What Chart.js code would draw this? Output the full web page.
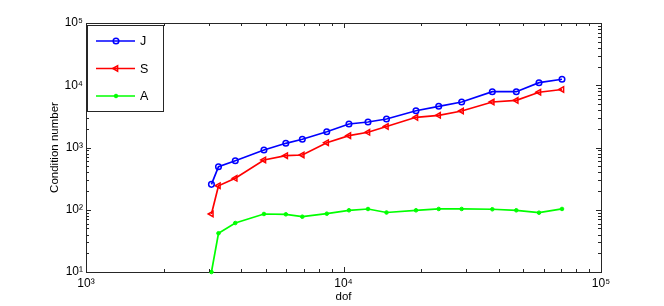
<!DOCTYPE html>
<html>
<head>
<meta charset="utf-8">
<script src="https://cdn.jsdelivr.net/npm/chart.js@4/dist/chart.umd.min.js"></script>
<style>
  html, body { margin: 0; padding: 0; background: #fff; }
  #wrap { width: 664px; height: 306px; }
</style>
</head>
<body>
<div id="wrap"><canvas id="chart-cond" width="664" height="306"></canvas></div>
<script>
// values (log-log)
var dof   = [3070, 3270, 3800, 4910, 5970, 6920, 8610, 10500, 12450, 14690, 19120, 23430, 28770, 37840, 46890, 57440, 70560];
var condJ = [256, 492, 614, 912, 1168, 1355, 1794, 2386, 2568, 2870, 3900, 4590, 5380, 7880, 7880, 10990, 12500];
var condS = [85.5, 243, 320, 630, 738, 758, 1194, 1548, 1755, 2175, 3055, 3290, 3857, 5380, 5730, 7730, 8550];
var condA = [10, 41.9, 61.2, 85.5, 84.5, 77.3, 86.4, 98, 102.8, 90.3, 98, 103, 103, 101.8, 98, 89.7, 103];
var seriesNames = ['J', 'S', 'A'];
var supers = {1: '\u00b9', 2: '\u00b2', 3: '\u00b3', 4: '\u2074', 5: '\u2075'};

function toPoints(ys) {
	return dof.map(function(x, i) { return {x: x, y: ys[i]}; });
}

function decadeLabel(v) {
	var e = Math.log10(v);
	if (Math.abs(e - Math.round(e)) < 1e-9) return '10' + supers[Math.round(e)];
	return '';
}

var fontFam = '"Liberation Sans", Arial, Helvetica, sans-serif';

// inward ticks on all four sides (matlab box style)
var boxTicks = {
	id: 'boxTicks',
	afterDraw: function(chart) {
		var ctx = chart.ctx, a = chart.chartArea;
		var sx = chart.scales.x, sy = chart.scales.y;
		ctx.save();
		ctx.strokeStyle = '#262626';
		ctx.lineWidth = 1;
		ctx.beginPath();
		ctx.moveTo(a.left, a.top + 0.5); ctx.lineTo(a.right + 0.5, a.top + 0.5);
		ctx.moveTo(a.right + 0.5, a.top); ctx.lineTo(a.right + 0.5, a.bottom);
		var d, m, v, p, len;
		for (d = 3; d <= 5; d++) {
			for (m = 1; m <= 9; m++) {
				v = m * Math.pow(10, d);
				if (v > 1e5) break;
				p = Math.round(sx.getPixelForValue(v)) + 0.5;
				len = m === 1 ? 5 : 3;
				ctx.moveTo(p, a.bottom); ctx.lineTo(p, a.bottom - len);
				ctx.moveTo(p, a.top); ctx.lineTo(p, a.top + len);
			}
		}
		for (d = 1; d <= 5; d++) {
			for (m = 1; m <= 9; m++) {
				v = m * Math.pow(10, d);
				if (v > 1e5) break;
				p = Math.round(sy.getPixelForValue(v)) + 0.5;
				len = m === 1 ? 5 : 3;
				ctx.moveTo(a.left, p); ctx.lineTo(a.left + len, p);
				ctx.moveTo(a.right, p); ctx.lineTo(a.right - len, p);
			}
		}
		ctx.stroke();
		ctx.restore();
	}
};

// legend box in the top left corner
var boxLegend = {
	id: 'boxLegend',
	afterDraw: function(chart) {
		var ctx = chart.ctx, a = chart.chartArea;
		var x0 = a.left + 1, y0 = a.top + 2, w = 76, h = 86;
		ctx.save();
		ctx.fillStyle = '#fff';
		ctx.fillRect(x0, y0, w, h);
		ctx.strokeStyle = '#262626';
		ctx.lineWidth = 1;
		ctx.strokeRect(x0 + 0.5, y0 + 0.5, w, h);
		chart.data.datasets.forEach(function(ds, i) {
			var yy = y0 + 16 + i * 27.5;
			ctx.strokeStyle = ds.borderColor;
			ctx.lineWidth = 1.6;
			ctx.beginPath();
			ctx.moveTo(x0 + 9, yy); ctx.lineTo(x0 + 48, yy);
			ctx.stroke();
			ctx.fillStyle = ds.pointBackgroundColor;
			ctx.strokeStyle = ds.borderColor;
			ctx.lineWidth = ds.pointBorderWidth;
			Chart.helpers.drawPoint(ctx, {
				pointStyle: ds.pointStyle, radius: ds.pointRadius,
				rotation: ds.pointRotation || 0, borderWidth: ds.pointBorderWidth
			}, x0 + 29, yy);
			ctx.fillStyle = '#000';
			ctx.font = '12.5px ' + fontFam;
			ctx.textBaseline = 'middle';
			ctx.fillText(ds.label, x0 + 53, yy + 1);
		});
		ctx.restore();
	}
};

var config = {
	type: 'line',
	data: {
		datasets: [{
			label: seriesNames[0],
			data: toPoints(condJ),
			borderColor: 'rgb(0,0,255)',
			borderWidth: 1.7,
			pointStyle: 'circle',
			pointRadius: 2.8,
			pointBorderWidth: 1.5,
			pointBackgroundColor: 'rgba(0,0,0,0)',
			pointBorderColor: 'rgb(0,0,255)'
		}, {
			label: seriesNames[1],
			data: toPoints(condS),
			borderColor: 'rgb(255,0,0)',
			borderWidth: 1.7,
			pointStyle: 'triangle',
			pointRotation: -90,
			pointRadius: 3.2,
			pointBorderWidth: 1.5,
			pointBackgroundColor: 'rgba(0,0,0,0)',
			pointBorderColor: 'rgb(255,0,0)'
		}, {
			label: seriesNames[2],
			data: toPoints(condA),
			borderColor: 'rgb(0,255,0)',
			borderWidth: 1.7,
			pointStyle: 'circle',
			pointRadius: 1.8,
			pointBorderWidth: 1,
			pointBackgroundColor: 'rgb(0,255,0)',
			pointBorderColor: 'rgb(0,255,0)'
		}]
	},
	options: {
		responsive: false,
		animation: false,
		clip: false,
		layout: { padding: { left: 0, top: 23, right: 63, bottom: 0 } },
		plugins: {
			legend: { display: false },
			tooltip: { enabled: false }
		},
		scales: {
			x: {
				type: 'logarithmic',
				min: 1000,
				max: 100000,
				grid: { display: false, drawTicks: false },
				border: { display: true, color: '#262626', width: 1 },
				ticks: {
					autoSkip: false,
					maxRotation: 0,
					padding: 4,
					color: '#000',
					font: { family: fontFam, size: 12 },
					callback: function(v) { return decadeLabel(v); }
				},
				title: {
					display: true,
					text: 'dof',
					color: '#000',
					font: { family: fontFam, size: 11.5 },
					padding: { top: 0, bottom: 2 }
				},
				afterFit: function(scale) { scale.height = 34; }
			},
			y: {
				type: 'logarithmic',
				min: 10,
				max: 100000,
				grid: { display: false, drawTicks: false },
				border: { display: true, color: '#262626', width: 1 },
				ticks: {
					autoSkip: false,
					padding: 3,
					color: '#000',
					font: { family: fontFam, size: 12 },
					callback: function(v) { return decadeLabel(v); }
				},
				title: {
					display: true,
					text: 'Condition number',
					color: '#000',
					font: { family: fontFam, size: 11.5 },
					padding: { top: 48, bottom: 0 }
				},
				afterFit: function(scale) { scale.width = 86; }
			}
		}
	},
	plugins: [boxTicks, boxLegend]
};

var ctx = document.getElementById('chart-cond').getContext('2d');
var chartCond = new Chart(ctx, config);
</script>
</body>
</html>
